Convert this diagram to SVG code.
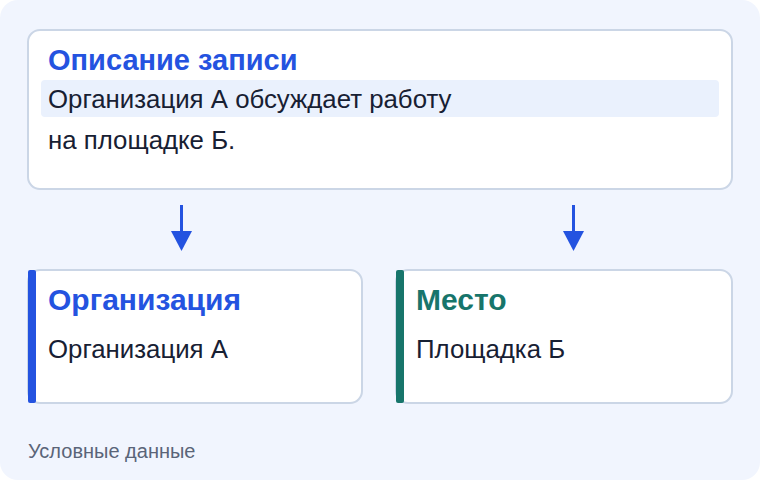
<svg xmlns="http://www.w3.org/2000/svg" width="760" height="480" viewBox="0 0 760 480">
<defs>
<style>
.card{fill:#ffffff;stroke:#cbd6e6;stroke-width:2}
.title{font-family:"Liberation Sans",Arial,sans-serif;font-weight:bold;font-size:30px}
.body{font-family:"Liberation Sans",Arial,sans-serif;font-size:25.8px;fill:#172033}
.blue{fill:#2453e0}
.teal{fill:#17756b}
.conn{stroke:#2453e0;stroke-width:3;fill:none}
.foot{font-family:"Liberation Sans",Arial,sans-serif;font-size:20px;fill:#5a6478}
</style>
</defs>
<rect x="0" y="0" width="760" height="480" rx="18" fill="#f1f5fe"/>
<g id="node-description">
<rect class="card" x="28" y="30" width="704" height="159" rx="12"/>
<rect x="41" y="80" width="678" height="37" rx="4" fill="#eaf1fd"/>
<text class="title blue" x="48" y="70" style="font-size:29px">Описание записи</text>
<text class="body" x="48" y="108">Организация А обсуждает работу</text>
<text class="body" x="48" y="149">на площадке Б.</text>
</g>
<g id="connectors">
<line class="conn" x1="181.5" y1="205" x2="181.5" y2="234"/>
<polygon points="171,231 192,231 181.5,251" fill="#2453e0"/>
<line class="conn" x1="573.5" y1="205" x2="573.5" y2="234"/>
<polygon points="563,231 584,231 573.5,251" fill="#2453e0"/>
</g>
<g id="node-organization">
<rect class="card" x="28" y="270" width="334" height="133" rx="12"/>
<rect x="28" y="270" width="8" height="133" rx="2" class="blue"/>
<text class="title blue" x="48" y="310">Организация</text>
<text class="body" x="48" y="358">Организация А</text>
</g>
<g id="node-place">
<rect class="card" x="396" y="270" width="336" height="133" rx="12"/>
<rect x="396" y="270" width="8" height="133" rx="2" class="teal"/>
<text class="title teal" x="416" y="310">Место</text>
<text class="body" x="416" y="358">Площадка Б</text>
</g>
<text class="foot" x="28" y="458">Условные данные</text>
</svg>
